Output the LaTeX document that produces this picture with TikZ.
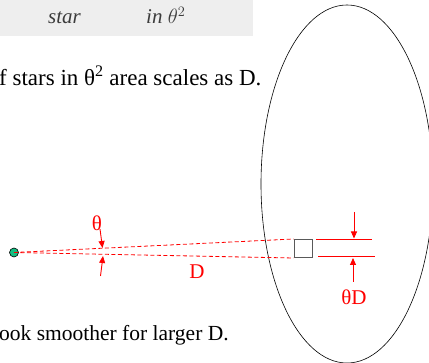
\documentclass[tikz,border=0pt]{standalone}
\usepackage{fontspec}
\setmainfont{Liberation Serif}
\usetikzlibrary{arrows.meta}
\definecolor{paper}{RGB}{238,238,238}
\definecolor{pen}{RGB}{60,60,60}
\definecolor{dotgreen}{RGB}{20,190,130}
\begin{document}
\begin{tikzpicture}[x=1pt,y=-1pt,
  redline/.style={red,line width=0.9pt},
  reddash/.style={red,line width=0.8pt,dash pattern=on 4pt off 2.5pt},
  redarrow/.style={red,line width=0.9pt,-{Triangle[length=7pt,width=6pt]}},
  lbl/.style={red,font=\fontsize{21}{21}\selectfont,inner sep=0pt},
  body/.style={font=\fontsize{23}{23}\selectfont,inner sep=0pt,anchor=base west},
  hand/.style={pen,font=\fontsize{21}{21}\selectfont\itshape,inner sep=0pt,anchor=base west}]
\useasboundingbox (0,0) rectangle (429,363);
\fill[paper] (0,0) rectangle (253,36);
\node[hand] (h1) at (48,24) {star};
\node[hand] (h2) at (146,24) {in $\theta^2$};
\node[body] (t1) at (-1,86) {f stars in θ\textsuperscript{2} area scales as D.};
\node[body,font=\fontsize{21.5}{21.5}\selectfont] (t2) at (-1,341) {ook smoother for larger D.};
\draw[black,line width=0.6pt] (347,184) ellipse [x radius=86,y radius=179];
\node[draw=black,fill=dotgreen,circle,minimum size=9pt,inner sep=0pt,line width=0.6pt] (star) at (14,252.5) {};
\node[draw=black!65,line width=1pt,minimum width=18pt,minimum height=18pt,inner sep=0pt] (sq) at (303,248.5) {};
\draw[reddash] (star.center) -- (sq.north west);
\draw[reddash] (star.center) -- (sq.south west);
\node[lbl] (theta) at (97,223) {θ};
\coordinate (ta1) at (100,229);
\coordinate (ta2) at (102.5,248);
\coordinate (tb1) at (100.5,276);
\coordinate (tb2) at (103,256);
\draw[redarrow] (ta1) -- (ta2);
\draw[redarrow] (tb1) -- (tb2);
\node[lbl] (D) at (197,272) {D};
\coordinate (u1) at (316,239.5);
\coordinate (u2) at (372,239.5);
\coordinate (l1) at (318,256.5);
\coordinate (l2) at (375,256.5);
\draw[redline] (u1) -- (u2);
\draw[redline] (l1) -- (l2);
\coordinate (da1) at (354,212);
\coordinate (da2) at (354,238.5);
\coordinate (db1) at (353,282);
\coordinate (db2) at (353,258);
\draw[redarrow] (da1) -- (da2);
\draw[redarrow] (db1) -- (db2);
\node[lbl] (thD) at (354,297.5) {θD};
\end{tikzpicture}
\end{document}
